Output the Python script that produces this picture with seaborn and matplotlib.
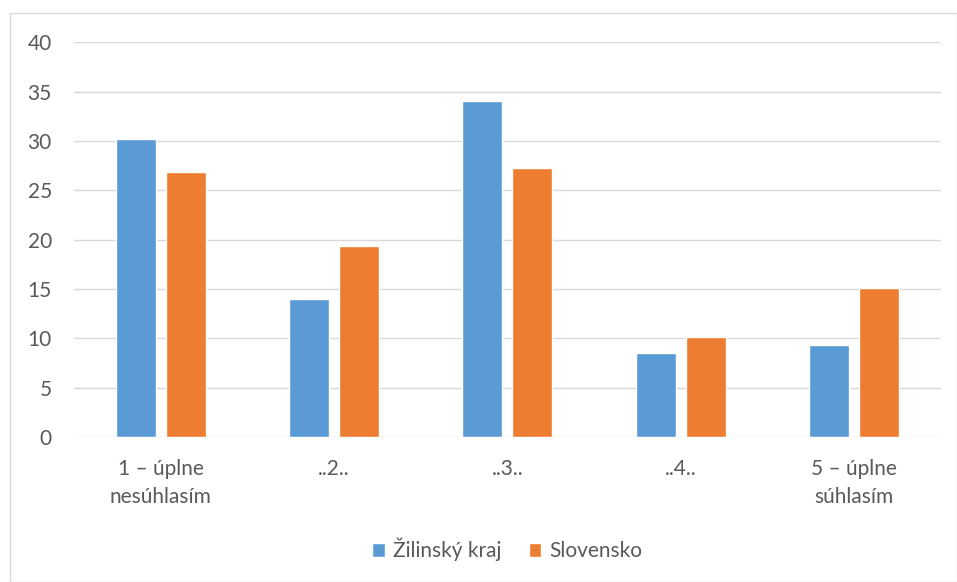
import numpy as np
import pandas as pd
import matplotlib
matplotlib.use("Agg")
import matplotlib.pyplot as plt
import seaborn as sns
from matplotlib.patches import Rectangle

# Data
categories = ["1 – úplne\nnesúhlasím", "..2..", "..3..", "..4..", "5 – úplne\nsúhlasím"]
series = ["Žilinský kraj", "Slovensko"]
zilinsky = [30.2, 14.0, 34.1, 8.5, 9.3]
slovensko = [26.9, 19.4, 27.3, 10.1, 15.1]
colors = ["#5B9BD5", "#ED7D31"]

df = pd.DataFrame({
    "kategoria": categories * 2,
    "seria": [series[0]] * 5 + [series[1]] * 5,
    "hodnota": zilinsky + slovensko,
})

sns.set_style("white")
plt.rcParams['font.family'] = ['Lato', 'DejaVu Sans']
text_color = "#595959"

fig = plt.figure(figsize=(9.57, 5.82), dpi=100)
ax = fig.add_axes([0.0773, 0.249, 0.9057, 0.678])

sns.barplot(data=df, x="kategoria", y="hodnota", hue="seria", order=categories,
            hue_order=series, palette=colors, width=0.577, gap=0.2,
            saturation=1, ax=ax, legend=True, zorder=3)

ax.set_ylim(0, 40)
ax.set_xlim(-0.5, 4.5)
ax.set_yticks(np.arange(0, 41, 5))
ax.yaxis.grid(True, color="#D9D9D9", linewidth=1, zorder=0)
ax.set_axisbelow(True)
for s in ax.spines.values():
    s.set_visible(False)
ax.set_xlabel("")
ax.set_ylabel("")
ax.tick_params(axis="both", length=0, labelsize=15, colors=text_color)
ax.tick_params(axis="y", pad=16)
ax.tick_params(axis="x", pad=16)
for lbl in ax.get_xticklabels():
    lbl.set_linespacing(1.45)

ax.legend(loc="center", bbox_to_anchor=(0.5, -0.285), ncol=2, frameon=False,
          fontsize=15, labelcolor=text_color, handlelength=0.6, handleheight=0.6,
          columnspacing=1.3, handletextpad=0.4)

# chart border
fig.patches.append(Rectangle((10 / 957, 0), 1 - 10 / 957, 1 - 13 / 582,
                             transform=fig.transFigure, fill=False,
                             edgecolor="#D9D9D9", linewidth=1))

fig.savefig("out.png", dpi=100)
